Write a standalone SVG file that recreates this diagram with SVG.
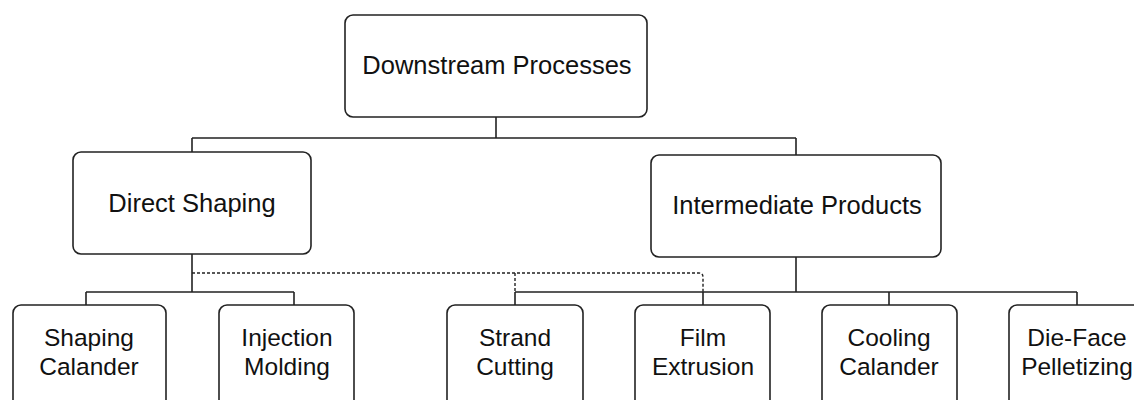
<svg xmlns="http://www.w3.org/2000/svg" width="1134" height="400" viewBox="0 0 1134 400">
<style>
.box{fill:#fff;stroke:#222;stroke-width:1.6}
.ln{fill:none;stroke:#222;stroke-width:1.6}
.dot{fill:none;stroke:#222;stroke-width:1.4;stroke-dasharray:3 2}
text{font-family:"Liberation Sans",Arial,sans-serif;font-size:25.5px;fill:#111;text-anchor:middle}
text.s{font-size:24.5px}
</style>
<rect width="1134" height="400" fill="#fff"/>
<g id="connectors">
<path class="ln" d="M496 117V138M192 138H796M192 138V152M796 138V155"/>
<path class="ln" d="M192 254V292M86 292H294M86 292V305M294 292V305"/>
<path class="ln" d="M796 257V292M515 292H1077M515 292V305M703 292V305M889 292V305M1077 292V305"/>
<path class="dot" d="M192 273H699Q703 273 703 277V292M515 273V292"/>
</g>
<g id="downstream"><rect class="box" x="345" y="15" width="302" height="102" rx="8"/><text x="497" y="74">Downstream Processes</text></g>
<g id="direct"><rect class="box" x="73" y="152" width="238" height="102" rx="8"/><text x="192" y="212">Direct Shaping</text></g>
<g id="intermediate"><rect class="box" x="651" y="155" width="290" height="102" rx="8"/><text x="797" y="214">Intermediate Products</text></g>
<g id="shaping"><rect class="box" x="13" y="305" width="153" height="120" rx="8"/><text class="s" x="89" y="346">Shaping</text><text class="s" x="89" y="375">Calander</text></g>
<g id="injection"><rect class="box" x="219" y="305" width="135" height="120" rx="8"/><text class="s" x="287" y="346">Injection</text><text class="s" x="287" y="375">Molding</text></g>
<g id="strand"><rect class="box" x="447" y="305" width="136" height="120" rx="8"/><text class="s" x="515" y="346">Strand</text><text class="s" x="515" y="375">Cutting</text></g>
<g id="film"><rect class="box" x="635" y="305" width="135" height="120" rx="8"/><text class="s" x="703" y="346">Film</text><text class="s" x="703" y="375">Extrusion</text></g>
<g id="cooling"><rect class="box" x="822" y="305" width="135" height="120" rx="8"/><text class="s" x="889" y="346">Cooling</text><text class="s" x="889" y="375">Calander</text></g>
<g id="dieface"><rect class="box" x="1009" y="305" width="136" height="120" rx="8"/><text class="s" x="1077" y="346">Die-Face</text><text class="s" x="1077" y="375">Pelletizing</text></g>
</svg>
